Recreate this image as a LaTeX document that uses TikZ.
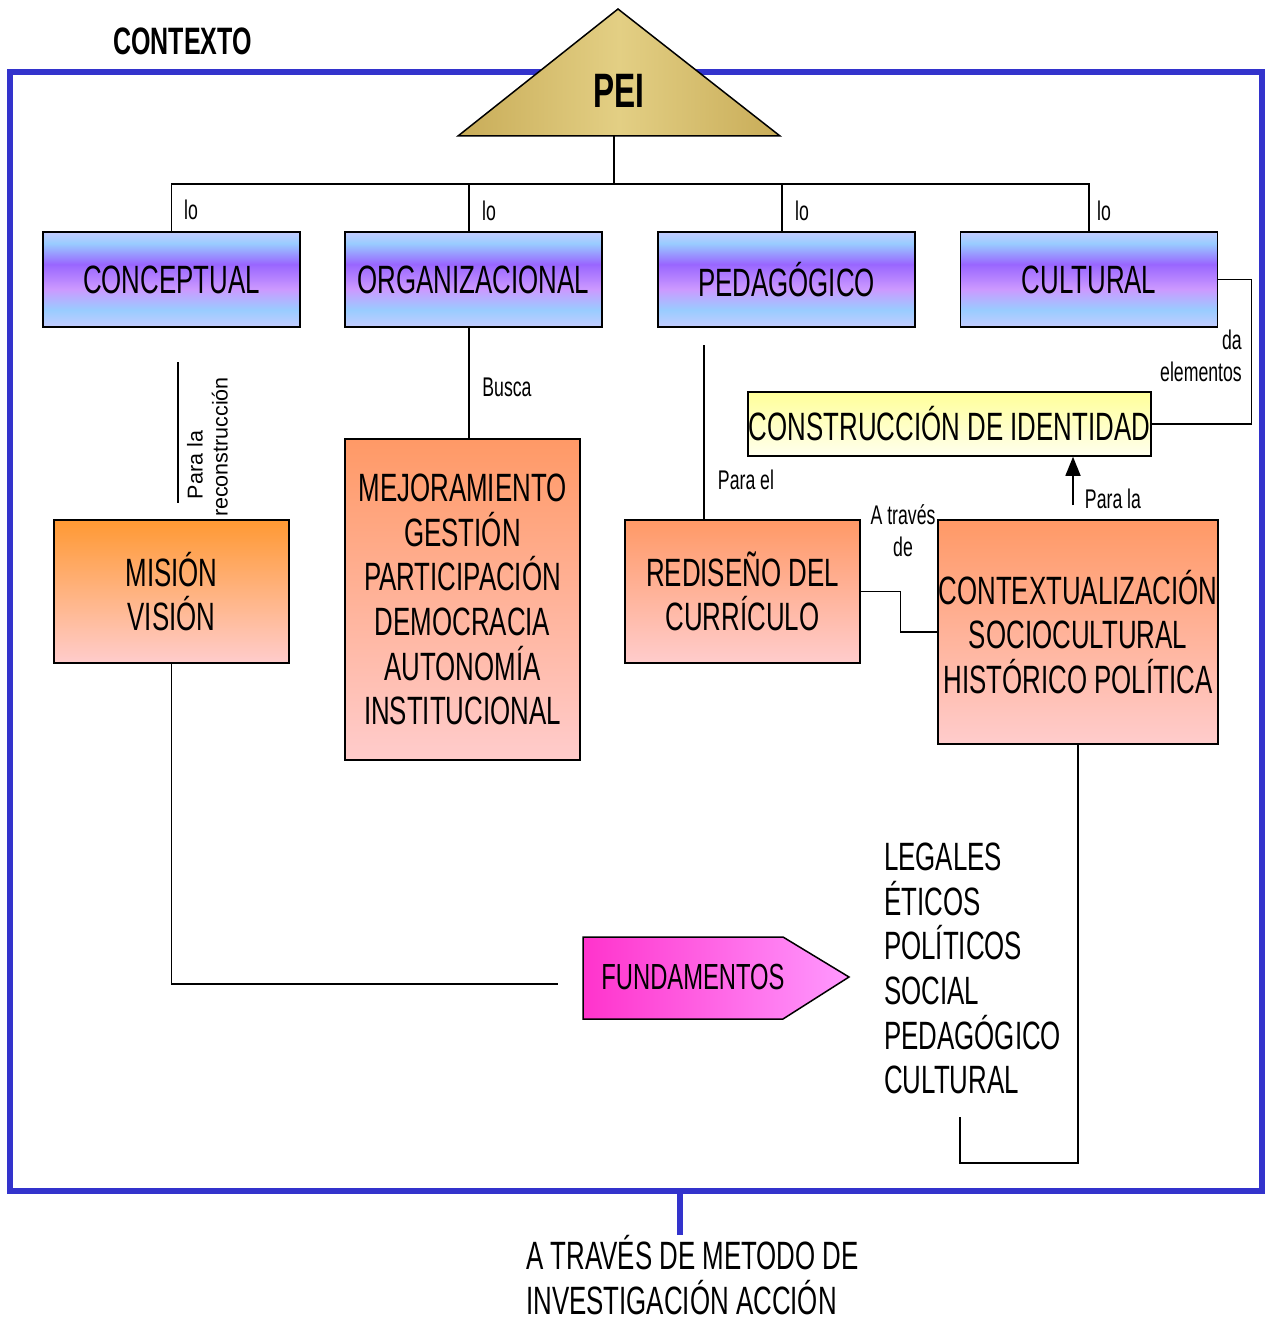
\documentclass[tikz,border=0pt]{standalone}
\usepackage{fontspec}
\setmainfont{Liberation Sans}[FakeStretch=0.655]
\newfontfamily\rotfont{Liberation Sans}
\usetikzlibrary{arrows.meta}

\definecolor{marco}{HTML}{3333CC}
\definecolor{azulclaro}{HTML}{99CCFF}
\definecolor{azulpalido}{HTML}{C4CCFF}
\definecolor{morado}{HTML}{9966FF}
\definecolor{lila}{HTML}{CC99FF}
\definecolor{naranja}{HTML}{FF9966}
\definecolor{naranjafuerte}{HTML}{FF9933}
\definecolor{rosado}{HTML}{FFCCCC}
\definecolor{amarillo}{HTML}{FFFF99}
\definecolor{crema}{HTML}{FFFFEE}
\definecolor{oro}{HTML}{C8AC58}
\definecolor{oroclaro}{HTML}{E3CF84}
\definecolor{fucsia}{HTML}{FF33CC}
\definecolor{fucsiaclaro}{HTML}{FF99FF}

\pgfdeclareverticalshading{franjas}{100bp}{color(0bp)=(azulpalido); color(25bp)=(azulpalido); color(34bp)=(azulclaro); color(45bp)=(lila); color(58bp)=(morado); color(69bp)=(azulclaro); color(75bp)=(azulpalido); color(100bp)=(azulpalido)}

\begin{document}
\begin{tikzpicture}[x=1pt,y=-1pt,
  grande/.style={font=\fontsize{39.5}{44.6}\selectfont},
  chica/.style={font=\fontsize{27}{32}\selectfont, inner sep=0pt},
  caja/.style={draw, line width=1.5pt, inner sep=0pt, align=center, grande},
  azul/.style={caja, shade, shading=franjas, minimum width=257pt, minimum height=95pt},
  salmon/.style={caja, top color=naranja, bottom color=rosado},
  linea/.style={line width=1.4pt},
  borde/.style={marco, line width=6.5pt}]
\useasboundingbox (0,0) rectangle (1267,1324);

\draw[borde] (10,72) rectangle (1262,1191);
\node[font=\fontsize{38.2}{40}\selectfont\bfseries] (contexto) at (182.5,41) {CONTEXTO};

\shadedraw[line width=1.5pt, left color=oro, right color=oro, middle color=oroclaro] (458,136) -- (618,9) -- (780,136) -- cycle;
\node[font=\fontsize{48.3}{50}\selectfont\bfseries] (pei) at (618.5,91) {PEI};

\node[azul] (conceptual) at (171.5,279.5) {CONCEPTUAL};
\node[azul] (organizacional) at (473.5,279.5) {ORGANIZACIONAL};
\node[azul] (pedagogico) at (786.5,279.5) {PEDAGÓGICO};
\node[azul] (cultural) at (1089,279.5) {CULTURAL};

\node[caja, top color=naranjafuerte, bottom color=rosado, minimum width=235pt, minimum height=143pt] (mision) at (171.5,591.5) {MISIÓN\\VISIÓN};
\node[salmon, minimum width=235pt, minimum height=321pt] (mejora) at (462.5,599.5) {MEJORAMIENTO\\GESTIÓN\\PARTICIPACIÓN\\DEMOCRACIA\\AUTONOMÍA\\INSTITUCIONAL};
\node[salmon, minimum width=235pt, minimum height=143pt] (rediseno) at (742.5,591.5) {REDISEÑO DEL\\CURRÍCULO};
\node[salmon, minimum width=280pt, minimum height=224pt] (contextual) at (1078,632) {CONTEXTUALIZACIÓN\\SOCIOCULTURAL\\HISTÓRICO POLÍTICA};
\node[caja, top color=amarillo, bottom color=crema, minimum width=403pt, minimum height=64pt] (identidad) at (949.5,424) {CONSTRUCCIÓN DE IDENTIDAD};

\shadedraw[line width=1.5pt, left color=fucsia, right color=fucsiaclaro] (583,937) -- (783,937) -- (849,977) -- (783,1019) -- (583,1019) -- cycle;
\node[font=\fontsize{36.3}{40}\selectfont] (fundamentos) at (693,977) {FUNDAMENTOS};

\node[grande, align=left, anchor=north west, inner sep=0pt] (lista) at (884,843) {LEGALES\\ÉTICOS\\POLÍTICOS\\SOCIAL\\PEDAGÓGICO\\CULTURAL};
\node[grande, align=left, anchor=north west, inner sep=0pt] (metodo) at (526,1235) {A TRAVÉS DE METODO DE\\INVESTIGACIÓN ACCIÓN};

\coordinate (base) at (614,136);
\coordinate (bus) at (614,184);
\draw[linea] (base) -- (bus);
\draw[linea] (conceptual.north) |- (bus) -| (cultural.north);
\draw[linea] ([xshift=-4.5pt]organizacional.north) -- ([xshift=-4.5pt]organizacional.north |- bus);
\draw[linea] ([xshift=-4.5pt]pedagogico.north) -- ([xshift=-4.5pt]pedagogico.north |- bus);
\node[chica] (lo1) at (191,210) {lo};
\node[chica] (lo2) at (489,211) {lo};
\node[chica] (lo3) at (802,211) {lo};
\node[chica] (lo4) at (1104,211) {lo};

\coordinate (r1) at (178,362);
\coordinate (r2) at (178,503);
\draw[linea] (r1) -- (r2);
\node[rotate=90, align=center, inner sep=0pt, font=\rotfont\fontsize{21.5}{25}\selectfont] (recons) at (207.5,447) {Para la\rule{36pt}{0pt}\\reconstrucción};
\coordinate (f1) at (558,984);
\draw[linea] (mision.south) |- (f1);

\draw[linea] ([xshift=-4.5pt]organizacional.south) -- ([xshift=-4.5pt]organizacional.south |- mejora.north);
\node[chica] (busca) at (507,387) {Busca};

\coordinate (p1) at (704,345);
\draw[linea] (p1) -- (p1 |- rediseno.north);
\node[chica] (parael) at (746,480) {Para el};

\draw[linea] (rediseno.east) -- ++(40,0) |- (contextual.west);
\node[chica, align=center] (atraves) at (903,531) {A través\\de};

\coordinate (a1) at (1073,505);
\draw[linea, -{Triangle[length=19pt,width=15pt]}] (a1) -- (a1 |- identidad.south);
\node[chica] (parala) at (1113,499) {Para la};

\draw[linea] (cultural.east) -- ++(33,0) |- (identidad.east);
\node[chica, align=right, anchor=east] (daelem) at (1242,356) {da\\elementos};

\coordinate (b1) at (960,1163);
\coordinate (b2) at (960,1117);
\draw[linea] (contextual.south) |- (b1) -- (b2);

\coordinate (stub) at (680,1191);
\draw[borde] (stub) -- (stub |- metodo.north);
\end{tikzpicture}
\end{document}
